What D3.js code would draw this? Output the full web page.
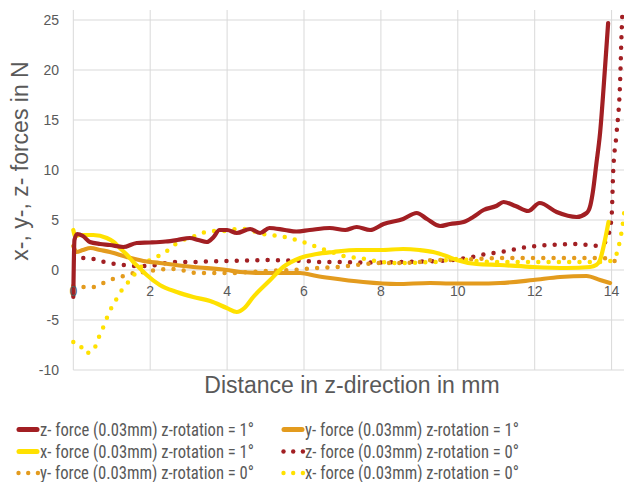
<!DOCTYPE html>
<html>
<head>
<meta charset="utf-8">
<script src="https://cdn.jsdelivr.net/npm/d3@7"></script>
<style>
  html, body { margin: 0; padding: 0; background: #fff; }
  svg { display: block; }
  .tick-label { font-family: "Liberation Sans", Arial, sans-serif; font-size: 14px; fill: #595959; }
  .axis-title { font-family: "Liberation Sans", Arial, sans-serif; font-size: 23px; fill: #595959; }
  .legend-text { font-family: "Liberation Sans Narrow", "Arial Narrow", "Roboto Condensed", sans-serif; font-size: 18px; fill: #595959; }
</style>
</head>
<body>
<svg id="chart" width="624" height="482"></svg>
<script>
// ---------- DATA ----------
const xTicks = [0, 2, 4, 6, 8, 10, 12, 14];
const yTicks = [-10, -5, 0, 5, 10, 15, 20, 25];

const seriesNames = [
  "z- force (0.03mm) z-rotation = 1°",
  "y- force (0.03mm) z-rotation = 1°",
  "x- force (0.03mm) z-rotation = 1°",
  "z- force (0.03mm) z-rotation = 0°",
  "y- force (0.03mm) z-rotation = 0°",
  "x- force (0.03mm) z-rotation = 0°"
];

// z-force, rotation 1° (solid dark red)
const zRot1X = [0, 0.03, 0.1, 0.25, 0.43, 0.7, 0.95, 1.3, 1.65, 2.0, 2.4, 2.7, 3.03, 3.25, 3.47, 3.65, 3.8, 4.0, 4.25, 4.6, 4.86, 5.1, 5.5, 5.8, 6.15, 6.67, 7.07, 7.37, 7.72, 8.07, 8.58, 8.93, 9.2, 9.54, 9.8, 10.15, 10.4, 10.67, 11.0, 11.19, 11.5, 11.83, 12.13, 12.57, 13.09, 13.35, 13.45, 13.52, 13.6, 13.7, 13.83, 13.91];
const zRot1Y = [-2.7, 3.0, 3.6, 3.4, 2.8, 2.6, 2.5, 2.3, 2.7, 2.75, 2.85, 3.0, 3.2, 3.0, 2.8, 3.3, 4.0, 4.0, 3.7, 4.1, 3.7, 4.2, 4.0, 3.85, 4.0, 4.2, 4.0, 4.3, 4.0, 4.6, 5.1, 5.7, 5.1, 4.4, 4.6, 4.8, 5.3, 6.0, 6.4, 6.8, 6.4, 5.9, 6.7, 5.8, 5.3, 5.7, 6.5, 8.0, 10.5, 13.7, 20.3, 24.7];

// y-force, rotation 1° (solid orange)
const yRot1X = [0, 0.08, 0.25, 0.45, 0.7, 0.95, 1.39, 1.82, 2.25, 3.12, 3.99, 4.34, 4.94, 5.9, 6.33, 6.68, 7.54, 8.41, 9.28, 9.8, 10.5, 11.1, 11.96, 12.66, 13.35, 13.7, 13.96];
const yRot1Y = [2.4, 1.8, 2.0, 2.2, 2.0, 1.8, 1.3, 0.9, 0.7, 0.3, 0.0, -0.2, -0.3, -0.3, -0.6, -0.8, -1.2, -1.4, -1.3, -1.35, -1.35, -1.3, -1.0, -0.7, -0.6, -1.0, -1.3];

// x-force, rotation 1° (solid yellow)
const xRot1X = [0, 0.05, 0.17, 0.52, 0.87, 1.05, 1.21, 1.4, 1.56, 1.75, 1.91, 2.25, 2.69, 3.12, 3.56, 3.99, 4.25, 4.45, 4.68, 5.12, 5.46, 5.9, 6.33, 6.76, 7.37, 8.0, 8.58, 9.0, 9.36, 9.7, 9.97, 10.49, 11.1, 11.96, 12.83, 13.44, 13.6, 13.7, 13.8, 13.92];
const xRot1Y = [4.0, 3.4, 3.5, 3.5, 3.2, 2.8, 2.2, 1.5, 0.8, 0.1, -0.5, -1.5, -2.2, -2.7, -3.1, -3.8, -4.2, -3.8, -2.7, -1.0, 0.3, 1.2, 1.6, 1.8, 2.0, 2.0, 2.1, 2.0, 1.8, 1.4, 1.0, 0.6, 0.5, 0.3, 0.2, 0.3, 0.5, 1.0, 2.5, 4.8];

// z-force, rotation 0° (dotted dark red)
const zRot0X = [0.26, 0.52, 0.8, 1.08, 1.35, 1.65, 1.9, 2.17, 2.43, 2.72, 3.0, 3.5, 4.0, 4.5, 5.0, 5.5, 6.0, 6.5, 7.0, 7.5, 8.0, 8.5, 9.0, 9.5, 9.9, 10.23, 10.75, 11.27, 11.8, 12.4, 13.18, 13.5, 13.77, 13.9, 14.0, 14.04, 14.13, 14.22, 14.26, 14.3];
const zRot0Y = [1.2, 1.1, 0.8, 0.6, 0.5, 0.4, 0.4, 0.5, 0.7, 0.8, 0.8, 0.85, 0.9, 0.95, 1.0, 0.95, 0.9, 0.8, 0.8, 0.75, 0.75, 0.8, 0.85, 0.9, 1.0, 1.2, 1.6, 1.9, 2.3, 2.5, 2.6, 2.4, 2.6, 3.3, 5.3, 9.7, 13.7, 18.7, 23.7, 27.5];

// y-force, rotation 0° (dotted orange)
const yRot0X = [0, 0.26, 0.52, 0.78, 1.03, 1.3, 1.56, 1.87, 2.17, 2.43, 2.69, 3.0, 3.3, 3.7, 4.1, 4.6, 5.2, 5.7, 6.33, 6.85, 7.37, 7.97, 8.5, 9.0, 9.36, 10.0, 10.5, 11.1, 12.0, 13.0, 13.7, 14.0, 14.2];
const yRot0Y = [-1.6, -1.7, -1.7, -1.3, -0.9, -0.6, -0.3, -0.2, 0.0, 0.1, 0.1, -0.2, -0.3, -0.3, -0.3, -0.2, -0.05, 0.0, 0.2, 0.3, 0.5, 0.7, 0.7, 0.8, 1.0, 1.0, 1.1, 1.2, 1.2, 1.2, 1.2, 1.1, 0.2];

// x-force, rotation 0° (dotted yellow)
const xRot0X = [0, 0.16, 0.3, 0.52, 0.62, 0.74, 0.84, 0.95, 1.08, 1.21, 1.39, 1.56, 1.73, 1.95, 2.21, 2.43, 2.66, 2.92, 3.17, 3.44, 3.7, 3.97, 4.25, 4.55, 4.8, 5.1, 5.36, 5.62, 5.88, 6.14, 6.4, 6.66, 6.92, 7.2, 7.46, 7.73, 8.0, 8.5, 9.0, 9.4, 9.97, 10.5, 11.0, 12.0, 13.0, 13.8, 14.04, 14.22, 14.28, 14.35];
const xRot0Y = [-7.2, -7.4, -8.3, -8.1, -7.1, -6.1, -5.1, -4.1, -3.2, -2.3, -1.4, -0.6, 0.2, 0.9, 1.4, 1.9, 2.6, 3.1, 3.4, 3.8, 3.9, 3.9, 4.1, 4.1, 3.7, 3.5, 3.4, 3.2, 2.9, 2.6, 2.2, 1.9, 1.5, 1.3, 1.2, 1.0, 0.8, 0.7, 0.75, 0.8, 1.1, 0.9, 0.8, 0.8, 0.8, 0.8, 1.0, 3.0, 4.3, 6.5];

// ---------- CHART ----------
const colors = { z: "#A21F23", y: "#E39B1E", x: "#FFE100" };
const series = [
  { name: seriesNames[0], xs: zRot1X, ys: zRot1Y, color: colors.z, dotted: false },
  { name: seriesNames[1], xs: yRot1X, ys: yRot1Y, color: colors.y, dotted: false },
  { name: seriesNames[2], xs: xRot1X, ys: xRot1Y, color: colors.x, dotted: false },
  { name: seriesNames[3], xs: zRot0X, ys: zRot0Y, color: colors.z, dotted: true },
  { name: seriesNames[4], xs: yRot0X, ys: yRot0Y, color: colors.y, dotted: true },
  { name: seriesNames[5], xs: xRot0X, ys: xRot0Y, color: colors.x, dotted: true }
];

const svg = d3.select("#chart");
const plotLeft = 73.3, plotRight = 624, plotTop = 10, plotBottom = 370;

const x = d3.scaleLinear().domain([0, 14]).range([plotLeft, 611.6]);
const y = d3.scaleLinear().domain([-10, 26]).range([plotBottom, plotTop]);

// gridlines
const grid = svg.append("g");
grid.selectAll("line.h").data(yTicks).enter().append("line")
  .attr("x1", plotLeft).attr("x2", plotRight)
  .attr("y1", d => y(d)).attr("y2", d => y(d))
  .attr("stroke", "#d9d9d9").attr("stroke-width", 1);
grid.selectAll("line.v").data(xTicks).enter().append("line")
  .attr("x1", d => x(d)).attr("x2", d => x(d))
  .attr("y1", plotTop).attr("y2", plotBottom)
  .attr("stroke", "#d9d9d9").attr("stroke-width", 1);

// clip
svg.append("clipPath").attr("id", "clip").append("rect")
  .attr("x", plotLeft - 3).attr("y", plotTop).attr("width", plotRight - plotLeft + 3).attr("height", plotBottom - plotTop);

const line = d3.line().x(d => x(d[0])).y(d => y(d[1])).curve(d3.curveMonotoneX);

const linesG = svg.append("g").attr("clip-path", "url(#clip)");
const drawOrder = [3, 4, 5, 1, 2, 0];
drawOrder.forEach(i => {
  const s = series[i];
  const pts = s.xs.map((v, k) => [v, s.ys[k]]);
  const p = linesG.append("path").datum(pts)
    .attr("d", line)
    .attr("fill", "none")
    .attr("stroke", s.color)
    .attr("stroke-linecap", "round")
    .attr("stroke-linejoin", "round");
  if (s.dotted) {
    p.attr("stroke-width", 4.5).attr("stroke-dasharray", "0 10.3");
  } else {
    p.attr("stroke-width", 4.2);
  }
});

// y tick labels
svg.append("g").selectAll("text").data(yTicks).enter().append("text")
  .attr("class", "tick-label")
  .attr("x", 59).attr("y", d => y(d) + 5)
  .attr("text-anchor", "end")
  .text(d => d);

// x tick labels (placed under the zero line)
svg.append("g").selectAll("text").data(xTicks).enter().append("text")
  .attr("class", "tick-label")
  .attr("x", d => x(d)).attr("y", y(0) + 26)
  .attr("text-anchor", "middle")
  .text(d => d);

// axis titles
svg.append("text").attr("class", "axis-title")
  .attr("x", 352).attr("y", 393).attr("text-anchor", "middle")
  .text("Distance in z-direction in mm");
svg.append("text").attr("class", "axis-title")
  .attr("transform", "translate(28,161) rotate(-90)")
  .attr("text-anchor", "middle")
  .text("x-, y-, z- forces in N");

// legend
const colX = [17, 282];
const rowY = [429.5, 451.5, 473];
const leg = svg.append("g");
series.forEach((s, idx) => {
  const cx = colX[idx % 2], cy = rowY[Math.floor(idx / 2)];
  if (s.dotted) {
    [0, 1, 2].forEach(k => {
      leg.append("circle").attr("cx", cx + 1.5 + k * 9.7).attr("cy", cy).attr("r", 2.2).attr("fill", s.color);
    });
  } else {
    leg.append("line").attr("x1", cx + 2).attr("x2", cx + 20)
      .attr("y1", cy).attr("y2", cy)
      .attr("stroke", s.color).attr("stroke-width", 5).attr("stroke-linecap", "round");
  }
  leg.append("text").attr("class", "legend-text")
    .attr("x", cx + 23).attr("y", cy + 6)
    .attr("textLength", 214).attr("lengthAdjust", "spacingAndGlyphs")
    .text(s.name);
});
</script>
</body>
</html>
